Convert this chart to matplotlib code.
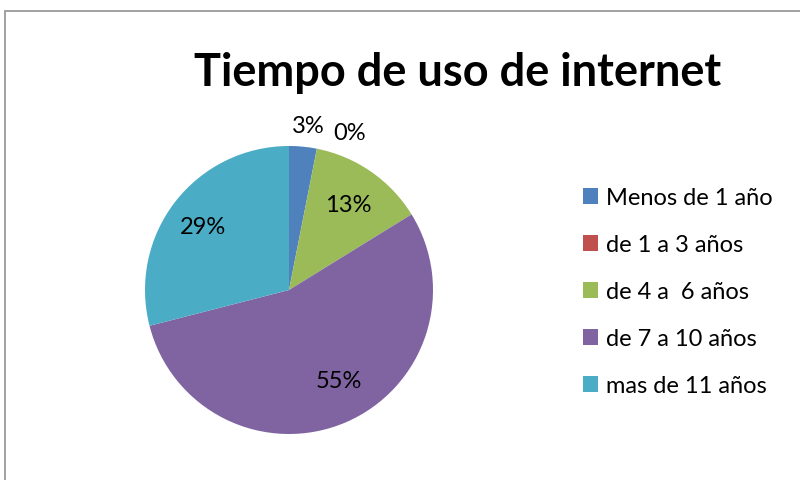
import matplotlib.pyplot as plt
import matplotlib.patches as mpatches
import numpy as np

categorias = ["Menos de 1 año", "de 1 a 3 años", "de 4 a  6 años", "de 7 a 10 años", "mas de 11 años"]
valores = [3.1, 0.0, 13.1, 54.8, 29.0]
etiquetas = ["3%", "0%", "13%", "55%", "29%"]
colores = ["#4F81BD", "#C0504D", "#9BBB59", "#8064A2", "#4BACC6"]

plt.rcParams['font.family'] = ['Lato', 'DejaVu Sans']

W, H = 800, 481
fig = plt.figure(figsize=(W / 100, H / 100), dpi=100)

# marco gris del grafico (se sale por la derecha y abajo)
fig.patches.append(mpatches.Rectangle((5 / W, -0.1), 1.2, (H - 12) / H + 0.1,
                                      transform=fig.transFigure, fill=False,
                                      edgecolor="#9a9a9a", linewidth=1.3))

# ejes del pastel: centro en (289, 190) px, radio 143 px
r_px = 143
cx, cy = 289, 190
half = 180
ax = fig.add_axes([(cx - half) / W, (cy - half) / H, 2 * half / W, 2 * half / H])
lim = half / r_px
ax.set_xlim(-lim, lim)
ax.set_ylim(-lim, lim)
ax.set_aspect("equal")
ax.axis("off")

wedges, _ = ax.pie(valores, colors=colores, startangle=90, counterclock=False,
                   radius=1, wedgeprops=dict(linewidth=0))

# posiciones de etiquetas segun el angulo medio de cada porcion
dist = [1.15, 1.17, 0.72, 0.72, 0.74]
desvio = [-1.0, -10.0, 0.0, 6.0, 1.5]
for w, lab, d, dv in zip(wedges, etiquetas, dist, desvio):
    ang = np.deg2rad((w.theta1 + w.theta2) / 2 + dv)
    ax.text(d * np.cos(ang), d * np.sin(ang), lab, ha="center", va="center",
            fontsize=17, color="black")

fig.text(458 / W, 1 - 73 / H, "Tiempo de uso de internet", ha="center", va="center",
         fontsize=32.5, fontweight="bold")

fig.legend(wedges, categorias, loc="upper left", bbox_to_anchor=(574 / W, 1 - 179 / H),
           frameon=False, fontsize=17, handlelength=0.62, handleheight=0.62,
           handletextpad=0.35, labelspacing=1.1, borderaxespad=0)

fig.savefig("out.png", dpi=100)
